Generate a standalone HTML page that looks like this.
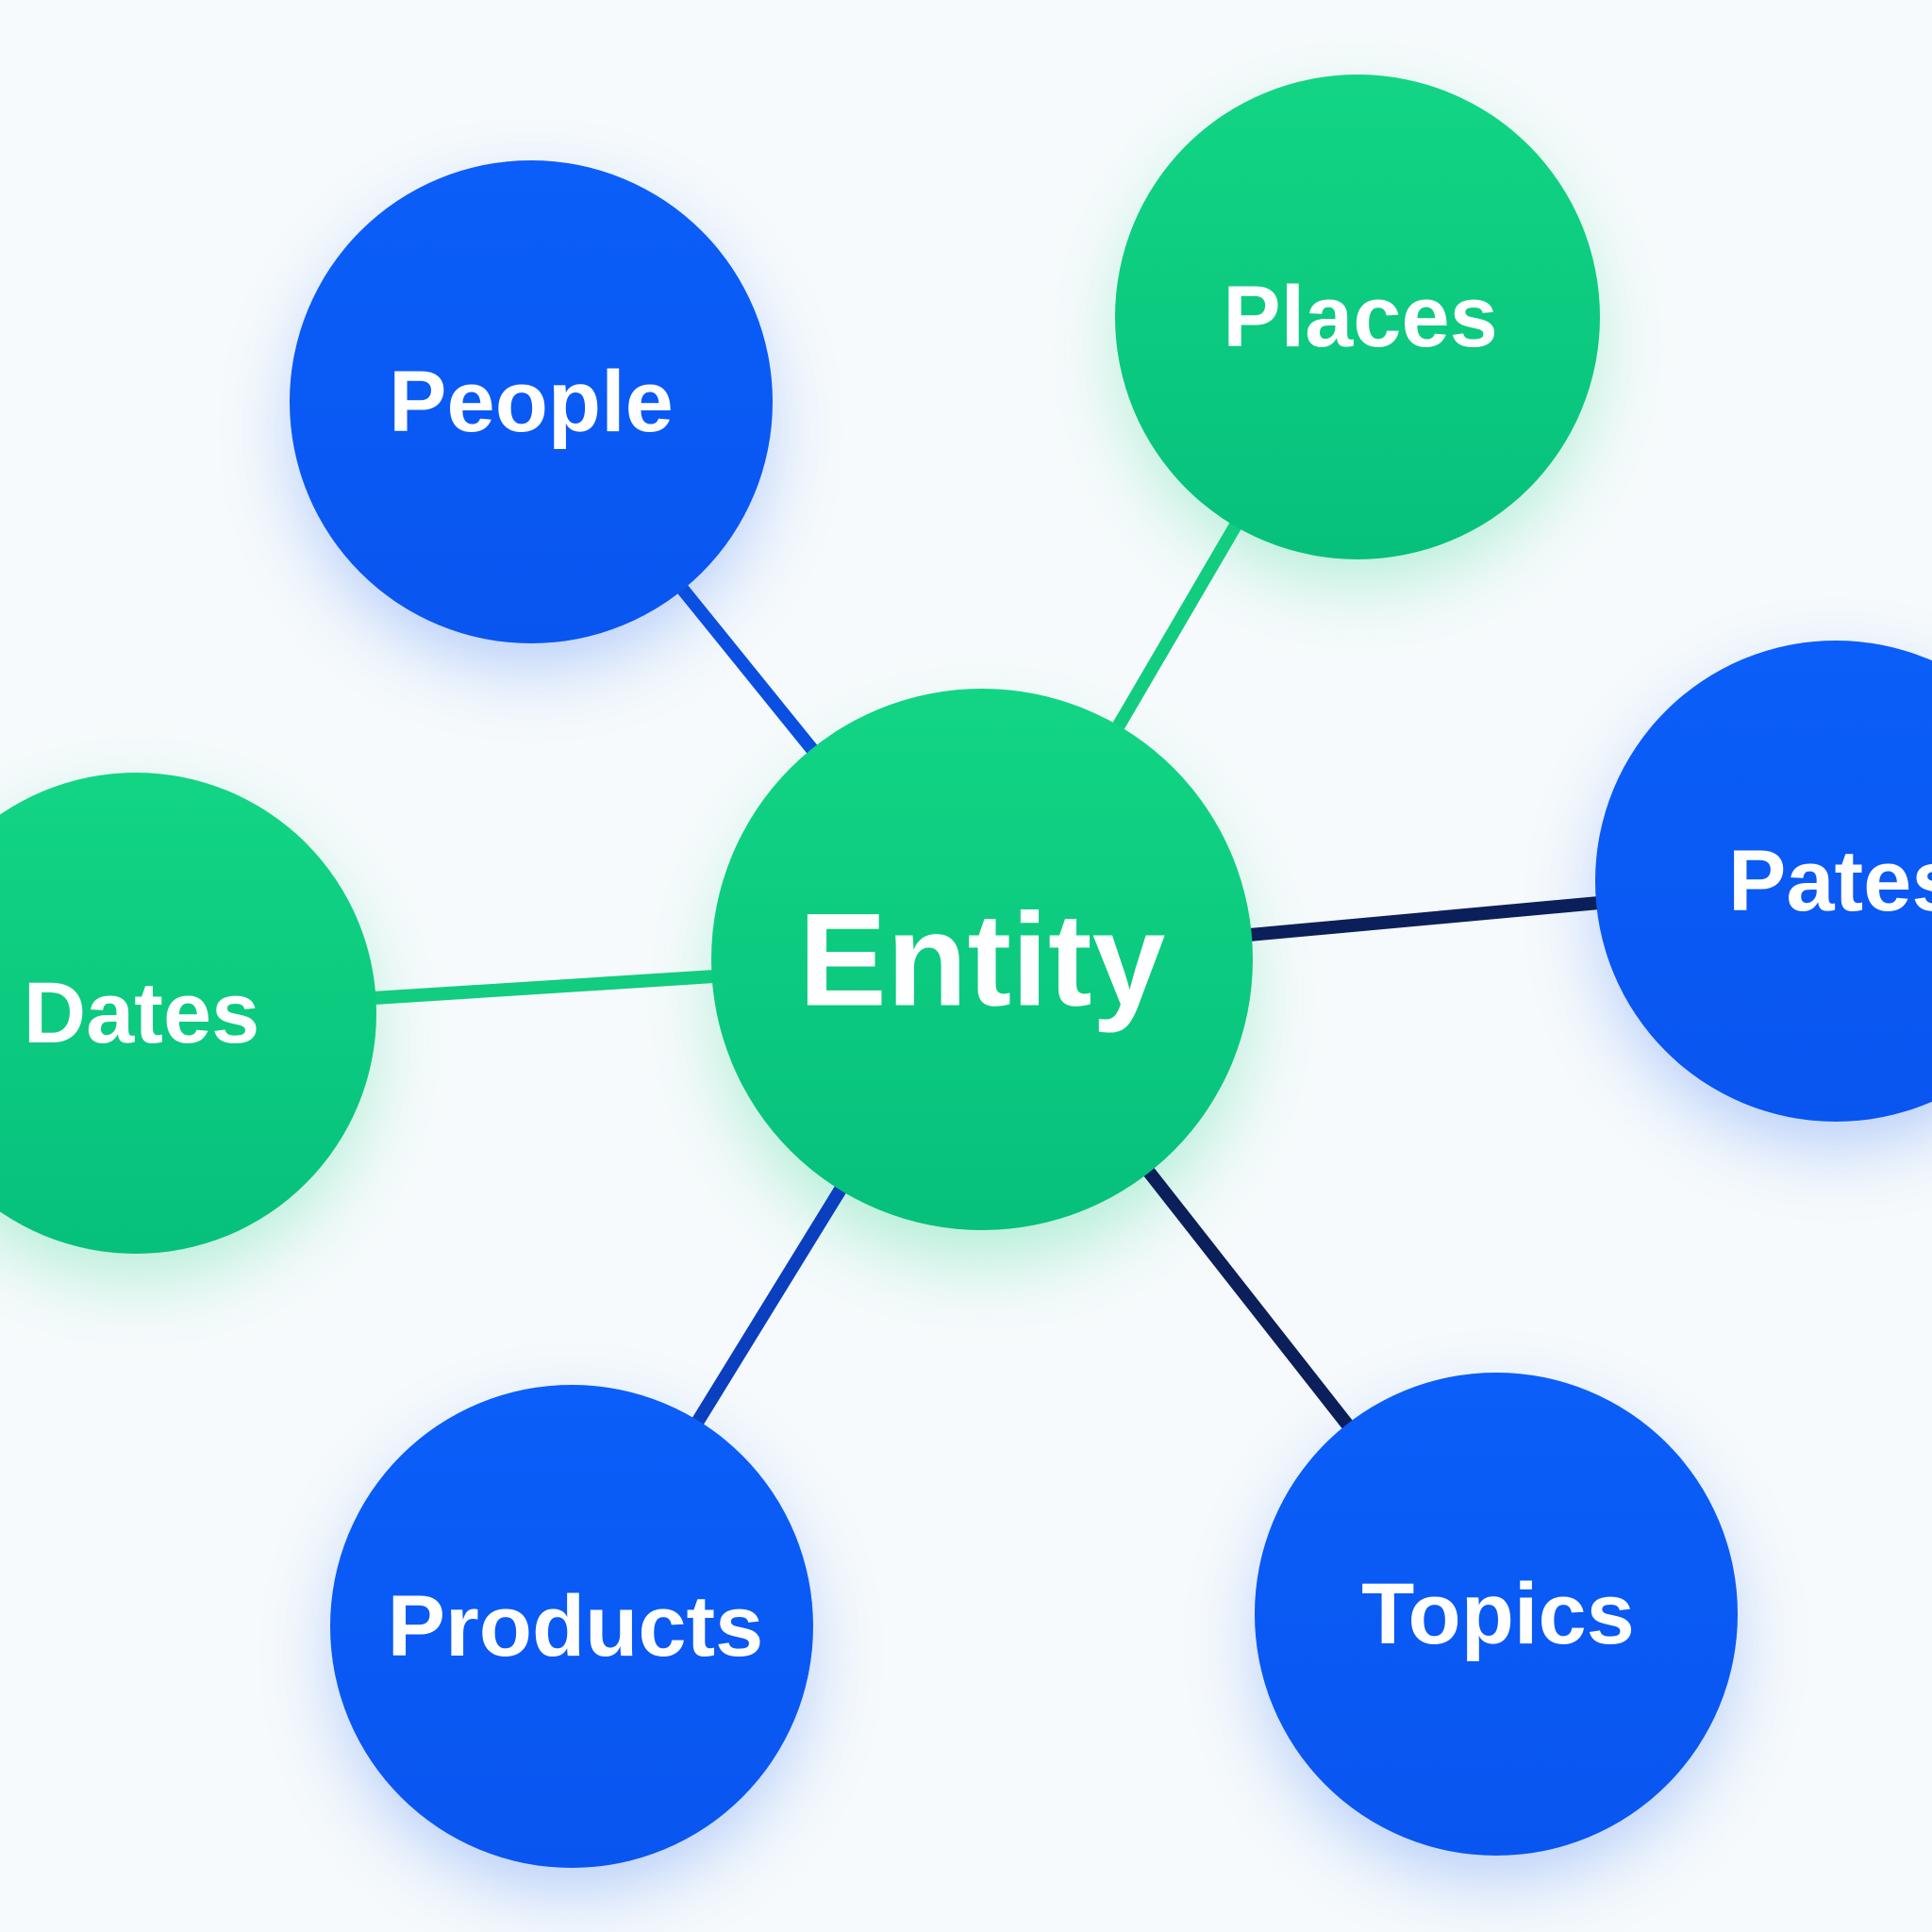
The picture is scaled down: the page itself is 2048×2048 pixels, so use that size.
<!DOCTYPE html>
<html><head><meta charset="utf-8"><style>
html,body{margin:0;padding:0;width:2048px;height:2048px;overflow:hidden;background:#f6fafc;}
svg{display:block}
text{font-family:"Liberation Sans",sans-serif;font-weight:bold;fill:#fff;text-anchor:middle;dominant-baseline:central}
</style></head><body>
<svg width="2048" height="2048" viewBox="0 0 2048 2048">
<defs>
<linearGradient id="gb" x1="0" y1="0" x2="0" y2="1"><stop offset="0" stop-color="#0b5ef9"/><stop offset="1" stop-color="#0955f0"/></linearGradient>
<linearGradient id="gg" x1="0" y1="0" x2="0" y2="1"><stop offset="0" stop-color="#12d584"/><stop offset="1" stop-color="#06c07c"/></linearGradient>
<filter id="sh" x="-50%" y="-50%" width="200%" height="200%"><feGaussianBlur stdDeviation="40"/></filter>
</defs>
<rect width="2048" height="2048" fill="#f6fafc"/>
<g filter="url(#sh)" opacity="0.35">
<circle cx="563" cy="456" r="250" fill="#3a78f5"/>
<circle cx="1439" cy="366" r="250" fill="#30d890"/>
<circle cx="1041" cy="1057" r="280" fill="#30d890"/>
<circle cx="144" cy="1104" r="250" fill="#30d890"/>
<circle cx="1946" cy="964" r="250" fill="#3a78f5"/>
<circle cx="606" cy="1754" r="250" fill="#3a78f5"/>
<circle cx="1586" cy="1741" r="250" fill="#3a78f5"/>
</g>
<g stroke-width="14" stroke-linecap="round">
<line x1="563" y1="426" x2="1041" y2="1017" stroke="#0a4fe0"/>
<line x1="1439" y1="336" x2="1041" y2="1017" stroke="#12cc80"/>
<line x1="144" y1="1074" x2="1041" y2="1017" stroke="#12cc80"/>
<line x1="1946" y1="934" x2="1041" y2="1017" stroke="#0b1f5a"/>
<line x1="606" y1="1724" x2="1041" y2="1017" stroke="#0a3fc0"/>
<line x1="1586" y1="1711" x2="1041" y2="1017" stroke="#0b1f5a"/>
</g>
<circle cx="563" cy="426" r="256" fill="url(#gb)"/>
<circle cx="1439" cy="336" r="257" fill="url(#gg)"/>
<circle cx="1041" cy="1017" r="287" fill="url(#gg)"/>
<circle cx="144" cy="1074" r="255" fill="url(#gg)"/>
<circle cx="1946" cy="934" r="255" fill="url(#gb)"/>
<circle cx="606" cy="1724" r="256" fill="url(#gb)"/>
<circle cx="1586" cy="1711" r="256" fill="url(#gb)"/>
<text x="563" y="426" font-size="92">People</text>
<text x="1442" y="336" font-size="92">Places</text>
<text x="1041" y="1017" font-size="140">Entity</text>
<text x="150" y="1074" font-size="92">Dates</text>
<text x="1832" y="934" font-size="92" style="text-anchor:start">Pates</text>
<text x="610" y="1724" font-size="92">Products</text>
<text x="1588" y="1711" font-size="92">Topics</text>
</svg>
</body></html>
